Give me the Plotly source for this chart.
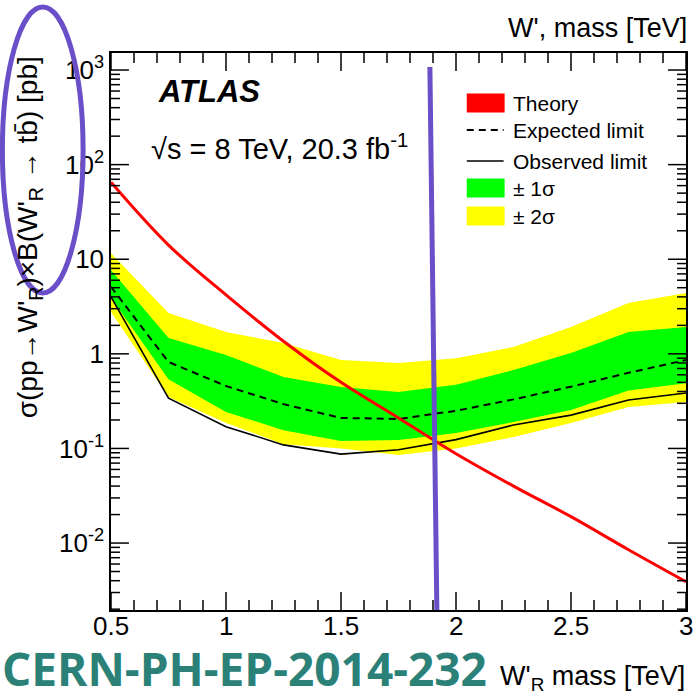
import numpy as np
import plotly.graph_objects as go

# W'_R -> tb cross-section limits (pb) vs W'_R mass (TeV)
mass = [0.5, 0.75, 1.0, 1.25, 1.5, 1.75, 2.0, 2.25, 2.5, 2.75, 3.0]
theory = [65, 14.1, 4.2, 1.36, 0.50, 0.21, 0.088, 0.040, 0.019, 0.0085, 0.0039]
expected = [5.1, 0.82, 0.457, 0.294, 0.21, 0.205, 0.25, 0.33, 0.45, 0.63, 0.86]
observed = [4.0, 0.34, 0.17, 0.109, 0.087, 0.097, 0.124, 0.177, 0.225, 0.325, 0.385]
band1_up = [7.7, 1.47, 0.97, 0.57, 0.446, 0.395, 0.47, 0.675, 1.02, 1.70, 1.92]
band1_dn = [3.9, 0.54, 0.243, 0.156, 0.12, 0.123, 0.146, 0.19, 0.255, 0.41, 0.49]
band2_up = [11.6, 2.70, 1.70, 1.30, 0.86, 0.80, 0.90, 1.18, 1.92, 3.44, 4.40]
band2_dn = [2.77, 0.35, 0.186, 0.111, 0.10, 0.085, 0.10, 0.132, 0.186, 0.274, 0.31]

x_ticks = [0.5, 1, 1.5, 2, 2.5, 3]
x_ticklabels = ["0.5", "1", "1.5", "2", "2.5", "3"]
y_ticks = [0.01, 0.1, 1, 10, 100, 1000]
y_ticklabels = ["10<sup>-2</sup>", "10<sup>-1</sup>", "1", "10", "10<sup>2</sup>", "10<sup>3</sup>"]

legend_labels = ["Theory", "Expected limit", "Observed limit", "± 1σ", "± 2σ"]

RED = "#FF0000"
GREEN = "#00FF00"
YELLOW = "#FFFF00"
PURPLE = "#6B4FC9"
TEAL = "#2B8177"
FONT = "Liberation Sans, Arial, sans-serif"

X_RANGE = [0.5, 3.0]
Y_RANGE = [float(np.log10(0.00196)), 3.18]

# plot area in pixels
L, R, T, B = 111, 688, 53, 610
W, H = 697, 698
PW, PH = R - L, B - T

fig = go.Figure()


def band(upper, lower, color):
    xs = list(mass) + list(mass[::-1])
    ys = list(upper) + list(lower[::-1])
    return go.Scatter(x=xs, y=ys, fill="toself", fillcolor=color, mode="none",
                      line=dict(width=0), hoverinfo="skip", showlegend=False)


fig.add_trace(band(band2_up, band2_dn, YELLOW))
fig.add_trace(band(band1_up, band1_dn, GREEN))
fig.add_trace(go.Scatter(x=mass, y=expected, mode="lines",
                         line=dict(color="black", width=2, dash="7px,5px"), showlegend=False))
fig.add_trace(go.Scatter(x=mass, y=observed, mode="lines",
                         line=dict(color="black", width=1.6), showlegend=False))
fig.add_trace(go.Scatter(x=mass, y=theory, mode="lines", line_shape="spline",
                         line=dict(color=RED, width=3), showlegend=False))

# tick marks on all four sides of the frame, drawn as one polyline trace
x_minor = [round(float(v), 2) for v in np.arange(0.6, 3.0, 0.1)
           if abs(v * 2 - round(v * 2)) > 1e-6]
y_minor = [k * 10.0 ** e for e in range(-3, 4) for k in range(2, 10)
           if Y_RANGE[0] < np.log10(k * 10.0 ** e) < Y_RANGE[1]]
xspan = X_RANGE[1] - X_RANGE[0]
yspan = Y_RANGE[1] - Y_RANGE[0]
tx, ty = [], []
for vals, ln in [(x_ticks, 18), (x_minor, 10)]:
    dy = ln / PH * yspan
    for v in vals:
        tx += [v, v, None, v, v, None]
        ty += [10 ** Y_RANGE[0], 10 ** (Y_RANGE[0] + dy), None,
               10 ** Y_RANGE[1], 10 ** (Y_RANGE[1] - dy), None]
for vals, ln in [(y_ticks, 18), (y_minor, 9)]:
    dx = ln / PW * xspan
    for v in vals:
        tx += [X_RANGE[0], X_RANGE[0] + dx, None, X_RANGE[1], X_RANGE[1] - dx, None]
        ty += [v, v, None, v, v, None]
fig.add_trace(go.Scatter(x=tx, y=ty, mode="lines", connectgaps=False, cliponaxis=False,
                         line=dict(color="black", width=1.5), hoverinfo="skip",
                         showlegend=False))


def px(x):
    return (x - L) / PW


def py(y):
    return (B - y) / PH


shapes = []
annotations = []

# x tick labels
for v, lab in zip(x_ticks, x_ticklabels):
    annotations.append(dict(x=v, y=py(626), xref="x", yref="paper", text=lab,
                            showarrow=False, xanchor="center", yanchor="middle",
                            height=24, font=dict(family=FONT, size=26, color="black")))

# legend
rows_y = [103, 130, 161, 188, 216]
for label, yy in zip(legend_labels, rows_y):
    annotations.append(dict(x=px(512), y=py(yy), xref="paper", yref="paper", text=label,
                            showarrow=False, xanchor="left", yanchor="middle",
                            font=dict(family=FONT, size=21, color="black")))
for color, yy in [(RED, 103), (GREEN, 188), (YELLOW, 216)]:
    shapes.append(dict(type="rect", xref="paper", yref="paper", x0=px(468), x1=px(506),
                       y0=py(yy - 9.5), y1=py(yy + 9.5), fillcolor=color, line=dict(width=0)))
shapes.append(dict(type="line", xref="paper", yref="paper", x0=px(468), x1=px(505),
                   y0=py(130), y1=py(130), line=dict(color="black", width=2, dash="7px,5px")))
shapes.append(dict(type="line", xref="paper", yref="paper", x0=px(468), x1=px(505),
                   y0=py(161), y1=py(161), line=dict(color="black", width=1.6)))

# highlight marks
shapes.append(dict(type="line", xref="paper", yref="paper", x0=px(431), x1=px(438),
                   y0=py(67), y1=py(610), line=dict(color=PURPLE, width=5)))
shapes.append(dict(type="circle", xref="paper", yref="paper", x0=px(2), x1=px(83),
                   y0=py(293), y1=py(7), line=dict(color=PURPLE, width=5)))

# texts
annotations += [
    dict(x=px(156), y=py(92), xref="paper", yref="paper", text="<b><i>ATLAS</i></b>",
         showarrow=False, xanchor="left", yanchor="middle",
         font=dict(family=FONT, size=31, color="black")),
    dict(x=px(149), y=py(147), xref="paper", yref="paper",
         text="√s = 8 TeV, 20.3 fb<sup>-1</sup>",
         showarrow=False, xanchor="left", yanchor="middle",
         font=dict(family=FONT, size=29, color="black")),
    dict(x=px(691), y=py(28), xref="paper", yref="paper", text="W', mass [TeV]",
         showarrow=False, xanchor="right", yanchor="middle",
         font=dict(family=FONT, size=27, color="black")),
    dict(x=px(689), y=py(678), xref="paper", yref="paper",
         text="W'<sub>R</sub> mass [TeV]",
         showarrow=False, xanchor="right", yanchor="middle",
         font=dict(family=FONT, size=27, color="black")),
    dict(x=px(0), y=py(668), xref="paper", yref="paper", text="<b>CERN-PH-EP-2014-232</b>",
         showarrow=False, xanchor="left", yanchor="middle", height=40,
         font=dict(family="Open Sans, sans-serif", size=46, color=TEAL)),
    dict(x=px(29), y=py(54), xref="paper", yref="paper", textangle=-90,
         text="σ(pp→W'<sub>R</sub>)×B(W'<sub>R</sub> → tb̄) [pb]",
         showarrow=False, xanchor="center", yanchor="top",
         font=dict(family=FONT, size=28, color="black")),
]

frame = dict(showline=True, linecolor="black", linewidth=1.5, mirror=True,
             showgrid=False, zeroline=False, ticks="")

fig.update_layout(
    width=W, height=H,
    margin=dict(l=L, r=W - R, t=T, b=H - B),
    paper_bgcolor="white", plot_bgcolor="white",
    shapes=shapes, annotations=annotations,
    showlegend=False,
    xaxis=dict(range=X_RANGE, tickmode="array", tickvals=x_ticks,
               showticklabels=False, **frame),
    yaxis=dict(type="log", range=Y_RANGE, tickmode="array",
               tickvals=y_ticks, ticktext=y_ticklabels,
               tickfont=dict(family=FONT, size=26, color="black"), **frame),
)

fig.write_html("out.html")
